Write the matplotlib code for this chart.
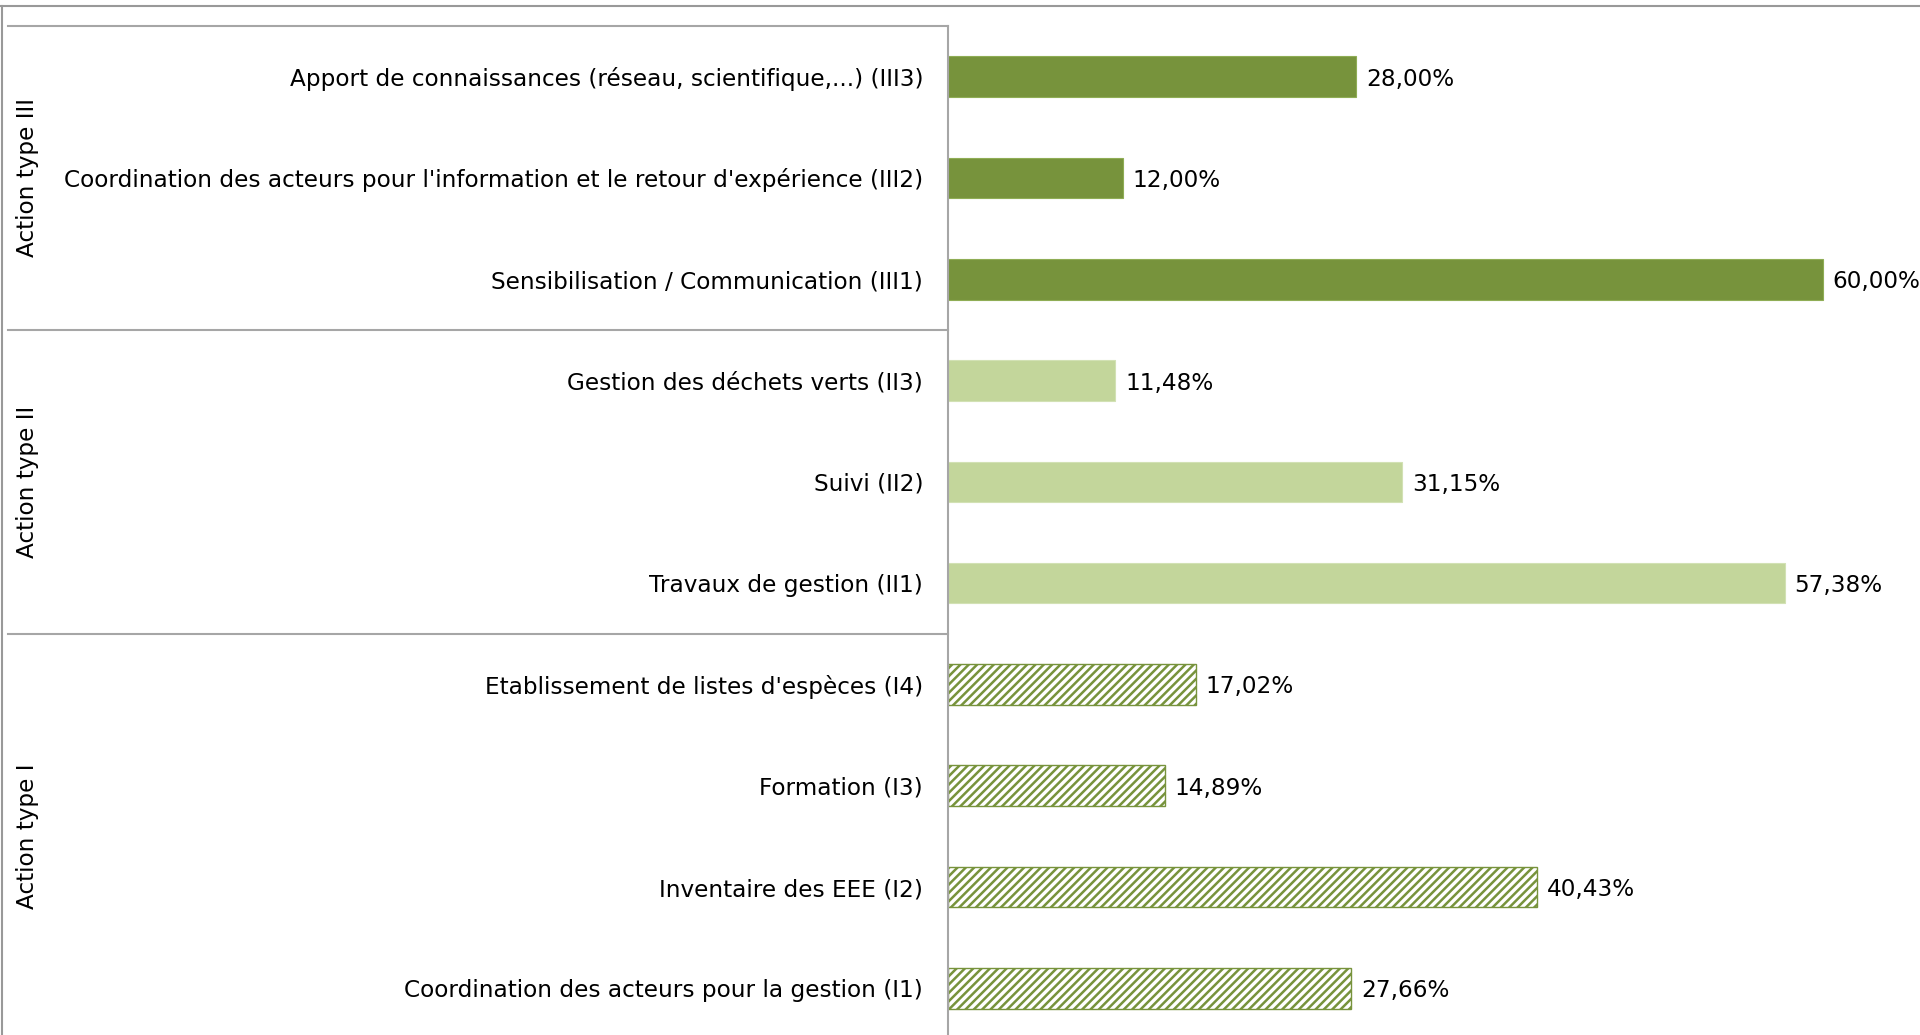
import matplotlib
matplotlib.use("Agg")
import matplotlib.pyplot as plt
import matplotlib.transforms as mtransforms
from matplotlib.lines import Line2D
import numpy as np

plt.rcParams['font.family'] = ['DejaVu Sans']
plt.rcParams['hatch.linewidth'] = 1.8

# ---- data (top to bottom) ----
categories = [
    "Apport de connaissances (réseau, scientifique,...) (III3)",
    "Coordination des acteurs pour l'information et le retour d'expérience (III2)",
    "Sensibilisation / Communication (III1)",
    "Gestion des déchets verts (II3)",
    "Suivi (II2)",
    "Travaux de gestion (II1)",
    "Etablissement de listes d'espèces (I4)",
    "Formation (I3)",
    "Inventaire des EEE (I2)",
    "Coordination des acteurs pour la gestion (I1)",
]
values = [28.00, 12.00, 60.00, 11.48, 31.15, 57.38, 17.02, 14.89, 40.43, 27.66]
groups = ["Action type III", "Action type II", "Action type I"]
group_sizes = [3, 3, 4]

dark_green = "#77933C"
light_green = "#C3D69B"
grey = "#A6A6A6"
FS = 16.7

W, H = 1920, 1035
fig = plt.figure(figsize=(W / 100, H / 100), dpi=100)
fig.patch.set_facecolor("white")

ax_left, ax_top, ax_bottom = 948, 26, 1039
ax = fig.add_axes([ax_left / W, 1 - ax_bottom / H, (W - ax_left) / W, (ax_bottom - ax_top) / H])

y = np.arange(len(categories))
styles = []
for g, n in zip(groups, group_sizes):
    styles += [g] * n

for yi, v, g in zip(y, values, styles):
    if g == "Action type III":
        ax.barh(yi, v, height=0.4, color=dark_green, edgecolor="#8FAD55", linewidth=0.8)
    elif g == "Action type II":
        ax.barh(yi, v, height=0.4, color=light_green, edgecolor="#D2E1B4", linewidth=0.8)
    else:
        ax.barh(yi, v, height=0.4, color="white", edgecolor=dark_green, hatch="////", linewidth=1.0)
    ax.annotate(f"{v:.2f}%".replace(".", ","), xy=(v, yi), xytext=(7, 0),
                textcoords="offset points", va="center_baseline", ha="left", fontsize=FS, color="black")

px_per_unit = 14.58
ax.set_xlim(0, (W - ax_left) / px_per_unit)
ax.set_ylim(len(categories) - 0.5, -0.5)
ax.set_yticks(y)
ax.set_yticklabels(categories, fontsize=FS, va="center_baseline")
ax.tick_params(axis="y", length=0, pad=18)
ax.set_xticks([])
for s in ["top", "right", "bottom"]:
    ax.spines[s].set_visible(False)
ax.spines["left"].set_color(grey)
ax.spines["left"].set_linewidth(1.5)

# group separators and labels
trans = mtransforms.blended_transform_factory(ax.transAxes, ax.transData)
x_start = (8 - ax_left) / (W - ax_left)
bounds = [-0.5]
for n in group_sizes:
    bounds.append(bounds[-1] + n)
for b in bounds[:-1]:
    ax.plot([x_start, 0], [b, b], transform=trans, color=grey, lw=1.5, clip_on=False)
x_lab = (28 - ax_left) / (W - ax_left)
for g, lo, hi in zip(groups, bounds[:-1], bounds[1:]):
    ax.text(x_lab, (lo + hi) / 2, g, transform=trans, rotation=90, ha="center", va="center",
            fontsize=FS, color="black")

# outer chart border
fig.add_artist(Line2D([1 / W, 1], [1 - 6 / H, 1 - 6 / H], transform=fig.transFigure, color="#999999", lw=1.5))
fig.add_artist(Line2D([1.5 / W, 1.5 / W], [0, 1 - 6 / H], transform=fig.transFigure, color="#999999", lw=1.5))

fig.savefig("out.png", dpi=100, facecolor="white")
